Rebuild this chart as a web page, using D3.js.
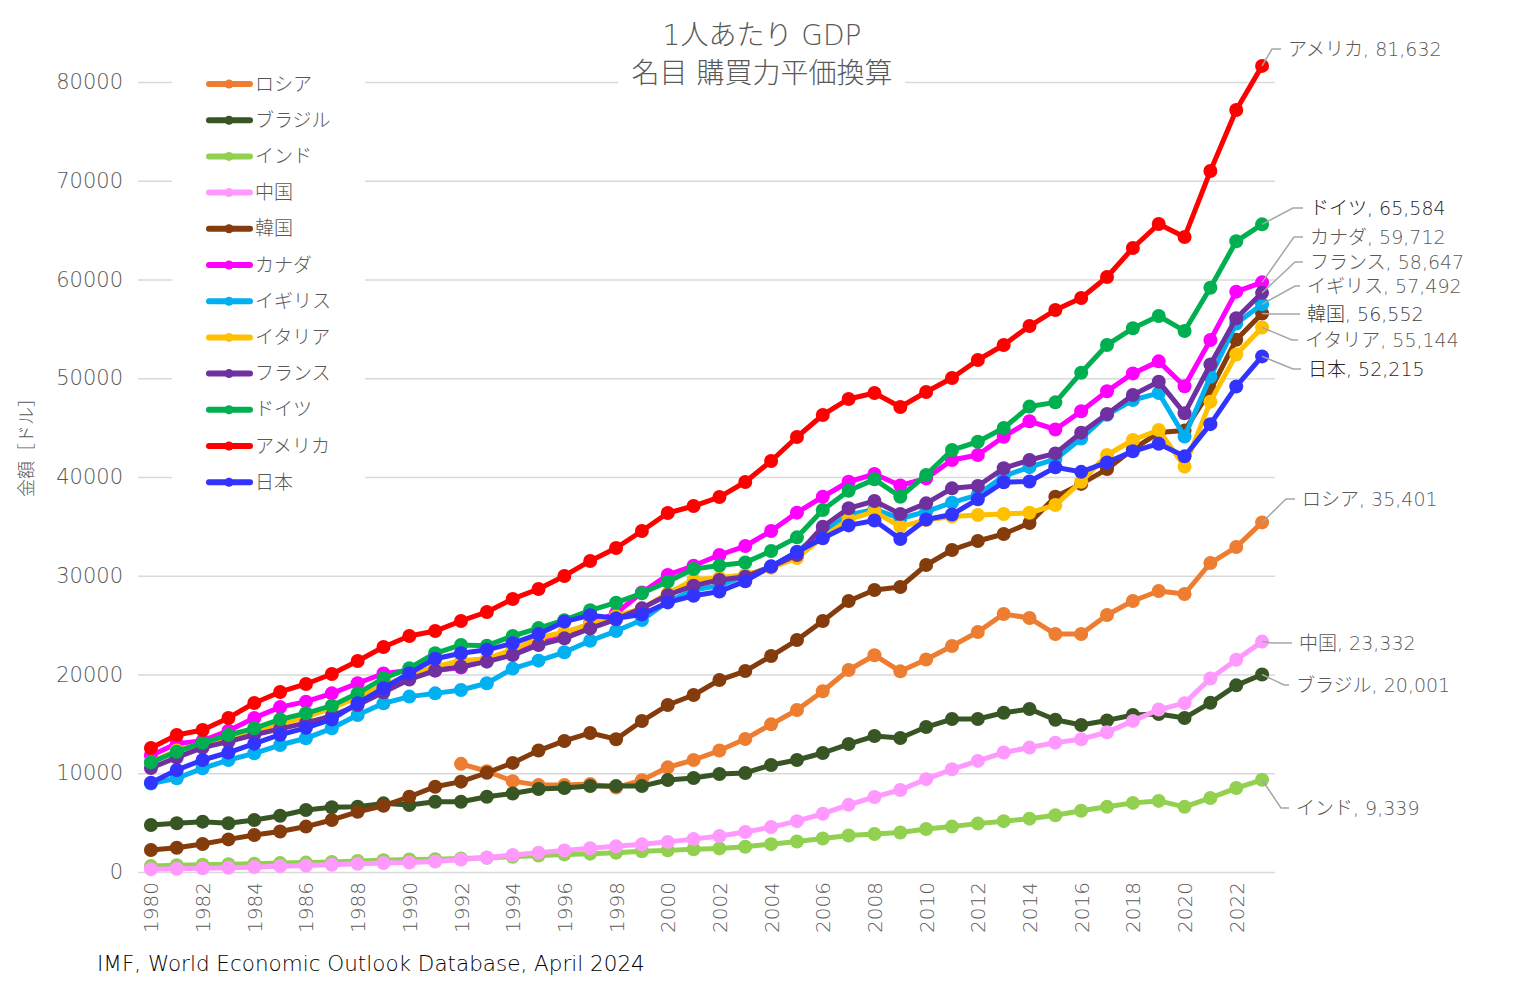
<!DOCTYPE html>
<html><head><meta charset="utf-8">
<script src="https://cdn.jsdelivr.net/npm/d3@7"></script>
<style>
body{margin:0;background:#fff}
svg{display:block}
text{font-family:"DejaVu Sans","Noto Sans CJK JP",sans-serif;font-weight:200}
</style>
</head><body>
<svg id="chart" width="1524" height="996"></svg>
<script>
// ---------- DATA ----------
const years = [1980,1981,1982,1983,1984,1985,1986,1987,1988,1989,
               1990,1991,1992,1993,1994,1995,1996,1997,1998,1999,
               2000,2001,2002,2003,2004,2005,2006,2007,2008,2009,
               2010,2011,2012,2013,2014,2015,2016,2017,2018,2019,
               2020,2021,2022,2023];
const xTickYears = [1980,1982,1984,1986,1988,1990,1992,1994,1996,1998,2000,2002,2004,2006,2008,2010,2012,2014,2016,2018,2020,2022];
const yTicks = [0,10000,20000,30000,40000,50000,60000,70000,80000];

const seriesNames  = ["ロシア","ブラジル","インド","中国","韓国","カナダ","イギリス","イタリア","フランス","ドイツ","アメリカ","日本"];
const seriesColors = ["#ED7D31","#375623","#92D050","#FF99FF","#843C0C","#FF00FF","#00B0F0","#FFC000","#7030A0","#00B050","#FF0000","#3333FF"];

const russia = [null,null,null,null,null,null,null,null,null,null,
  null,null,10950,10200,9200,8800,8800,8900,8550,9300,
  10600,11340,12300,13470,14950,16410,18300,20460,21950,20320,
  21520,22890,24300,26130,25720,24100,24100,26030,27440,28460,
  28150,31290,32910,35401];
const brazil = [4760,4930,5100,4930,5270,5700,6280,6550,6610,6950,
  6780,7120,7120,7620,7950,8400,8510,8710,8700,8700,
  9320,9520,9920,10030,10840,11340,12050,12960,13770,13570,
  14680,15490,15490,16130,16500,15420,14890,15350,15900,16000,
  15600,17130,18900,20001];
const india = [620,690,740,790,840,900,950,1010,1110,1190,
  1270,1300,1370,1440,1550,1660,1780,1860,1950,2100,
  2190,2300,2390,2560,2820,3090,3390,3700,3850,4000,
  4350,4600,4900,5150,5400,5750,6200,6600,7000,7200,
  6600,7500,8500,9339];
const china = [290,330,380,430,510,590,650,740,840,900,
  950,1060,1260,1470,1720,1950,2180,2400,2600,2800,
  3050,3330,3650,4050,4550,5150,5900,6800,7600,8300,
  9400,10400,11250,12100,12600,13100,13450,14150,15300,16450,
  17100,19600,21500,23332];
const korea = [2230,2450,2830,3300,3750,4100,4600,5270,6100,6710,
  7620,8640,9150,10050,11050,12300,13270,14080,13450,15290,
  16910,17920,19440,20350,21870,23490,25420,27440,28560,28860,
  31090,32610,33520,34230,35340,38000,39300,40800,42800,44500,
  44700,48800,53900,56552];
const canada = [11800,13000,13300,14300,15600,16700,17250,18090,19110,20100,
  20400,20400,20700,21400,22500,23300,24000,25200,26200,28300,
  30080,31010,32100,33010,34530,36390,38000,39520,40300,39140,
  39860,41720,42230,44080,45650,44810,46660,48690,50490,51710,
  49190,53870,58770,59712];
const uk = [8950,9490,10500,11340,12020,12860,13540,14550,15900,17080,
  17760,18090,18430,19110,20600,21400,22250,23420,24400,25520,
  27370,28560,29000,30000,30920,32440,34460,36150,36720,35800,
  36500,37400,38200,40100,41000,41800,43900,46300,47800,48500,
  44100,50150,55540,57492];
const italy = [11100,12300,13000,13500,14200,15000,15700,16600,17700,18900,
  19900,20800,21400,21600,22500,23700,24300,25100,25900,26700,
  28200,29600,29800,30100,30800,31800,33900,35700,36500,34970,
  35650,36000,36150,36250,36380,37160,39520,42230,43750,44760,
  41050,47630,52410,55144];
const france = [10530,11600,12600,13200,13900,14500,15100,15800,16900,18200,
  19500,20400,20800,21300,21970,22990,23660,24670,25590,26700,
  28050,29000,29570,29900,30920,32100,34970,36830,37570,36250,
  37330,38850,39090,40880,41720,42390,44490,46380,48300,49650,
  46450,51390,56070,58647];
const germany = [11100,12180,13090,13870,14550,15460,16070,16840,18090,19610,
  20630,22150,22990,22920,23900,24700,25500,26500,27270,28220,
  29400,30690,31030,31340,32500,33890,36660,38610,39760,38000,
  40200,42730,43570,44960,47130,47560,50560,53370,55060,56300,
  54790,59170,63870,65584];
const usa = [12557,13873,14380,15600,17110,18230,19040,20050,21370,22780,
  23900,24400,25420,26330,27650,28660,29980,31500,32810,34530,
  36350,37060,37970,39490,41620,44050,46280,47900,48510,47090,
  48610,50030,51850,53370,55290,56910,58130,60250,63190,65620,
  64300,70990,77160,81632];
const japan = [9040,10330,11340,12100,13000,13900,14600,15450,17100,18610,
  20130,21600,22150,22500,23160,24100,25350,26000,25700,26080,
  27300,27970,28400,29450,30950,32400,33800,35100,35600,33720,
  35700,36200,37750,39470,39550,40980,40520,41480,42600,43370,
  42090,45350,49170,52215];

const seriesValues = [russia,brazil,india,china,korea,canada,uk,italy,france,germany,usa,japan];

// end-label layout (pixels): elbow x, label y, text x, text colour
const labelLayout = {
  "アメリカ": {ex:1272, ly:49,  tx:1288, c:"#595959"},
  "ドイツ":   {ex:1293, ly:208, tx:1310, c:"#262626"},
  "カナダ":   {ex:1294, ly:237, tx:1310, c:"#595959"},
  "フランス": {ex:1295, ly:262, tx:1310, c:"#595959"},
  "イギリス": {ex:1295, ly:286, tx:1307, c:"#595959"},
  "韓国":     {ex:1272, ly:314, tx:1307, c:"#404040"},
  "イタリア": {ex:1292, ly:340, tx:1305, c:"#595959"},
  "日本":     {ex:1293, ly:369, tx:1308, c:"#262626"},
  "ロシア":   {ex:1286, ly:499, tx:1302, c:"#595959"},
  "中国":     {ex:1272, ly:643, tx:1299, c:"#595959"},
  "ブラジル": {ex:1284, ly:685, tx:1296, c:"#595959"},
  "インド":   {ex:1281, ly:808, tx:1296, c:"#595959"}
};

// ---------- CHART ----------
const svg = d3.select("#chart");
const L = 138, R = 1275, T = 82, B = 872;
const x = d3.scalePoint().domain(years).range([L, R]).padding(0.5);
const y = d3.scaleLinear().domain([0, 80000]).range([B, T]);

// gridlines + y labels
const yAxis = svg.append("g").attr("transform", `translate(${L},0)`)
  .call(d3.axisLeft(y).tickValues(yTicks).tickSize(-(R - L)).tickPadding(15).tickFormat(d3.format("d")));
yAxis.select(".domain").remove();
yAxis.selectAll(".tick line").attr("stroke", "#d9d9d9").attr("stroke-width", 1.3);
yAxis.selectAll(".tick text").attr("fill", "#595959").style("font-size", "21px");

// x labels
const xAxis = svg.append("g").attr("transform", `translate(0,${B})`)
  .call(d3.axisBottom(x).tickValues(xTickYears).tickSize(0));
xAxis.select(".domain").remove();
xAxis.selectAll(".tick text")
  .attr("transform", "rotate(-90)")
  .attr("x", -10).attr("y", 0).attr("dy", "0.35em")
  .attr("text-anchor", "end")
  .attr("fill", "#595959").style("font-size", "20px");

// y axis title
svg.append("text").attr("transform", "translate(27,443) rotate(-90)")
  .attr("text-anchor", "middle").attr("dy", "0.35em")
  .attr("fill", "#595959").style("font-size", "18px").text("金額［ドル］");

// series
seriesNames.forEach((name, k) => {
  const pts = seriesValues[k].map((v, i) => ({yr: years[i], v}));
  const g = svg.append("g");
  g.append("path")
    .attr("d", d3.line().defined(d => d.v != null).x(d => x(d.yr)).y(d => y(d.v))(pts))
    .attr("fill", "none").attr("stroke", seriesColors[k]).attr("stroke-width", 5)
    .attr("stroke-linejoin", "round");
  g.selectAll("circle").data(pts.filter(d => d.v != null))
    .join("circle").attr("cx", d => x(d.yr)).attr("cy", d => y(d.v)).attr("r", 7)
    .attr("fill", seriesColors[k]);
});

// end labels with leader lines
const fmt = d3.format(",");
seriesNames.forEach((name, k) => {
  const vals = seriesValues[k];
  const last = vals[vals.length - 1];
  const px = x(years[years.length - 1]), py = y(last);
  const lay = labelLayout[name];
  svg.append("path")
    .attr("d", `M${px},${py}L${lay.ex},${lay.ly}L${lay.tx - 7},${lay.ly}`)
    .attr("fill", "none").attr("stroke", "#a6a6a6").attr("stroke-width", 1.5);
  svg.append("text").attr("x", lay.tx).attr("y", lay.ly).attr("dy", "0.35em")
    .attr("fill", lay.c).style("font-size", "19px")
    .text(`${name}, ${fmt(last)}`);
});

// title
svg.append("rect").attr("x", 618).attr("y", 12).attr("width", 287).attr("height", 82).attr("fill", "#fff");
svg.append("text").attr("x", 762).attr("y", 45).attr("text-anchor", "middle")
  .attr("fill", "#595959").style("font-size", "28px").text("1人あたり GDP");
svg.append("text").attr("x", 762).attr("y", 83).attr("text-anchor", "middle")
  .attr("fill", "#595959").style("font-size", "28px").text("名目 購買力平価換算");

// legend
const lg = svg.append("g");
lg.append("rect").attr("x", 172).attr("y", 62).attr("width", 193).attr("height", 440).attr("fill", "#fff");
seriesNames.forEach((name, k) => {
  const ly = 84 + k * 36.2;
  lg.append("line").attr("x1", 209).attr("x2", 250).attr("y1", ly).attr("y2", ly)
    .attr("stroke", seriesColors[k]).attr("stroke-width", 6).attr("stroke-linecap", "round");
  lg.append("circle").attr("cx", 229).attr("cy", ly).attr("r", 4.5).attr("fill", seriesColors[k]);
  lg.append("text").attr("x", 255).attr("y", ly).attr("dy", "0.35em")
    .attr("fill", "#595959").style("font-size", "19px").text(name);
});

// source
svg.append("text").attr("x", 97).attr("y", 971).attr("fill", "#000")
  .style("font-size", "21.5px").text("IMF, World Economic Outlook Database, April 2024");
</script>
</body></html>
